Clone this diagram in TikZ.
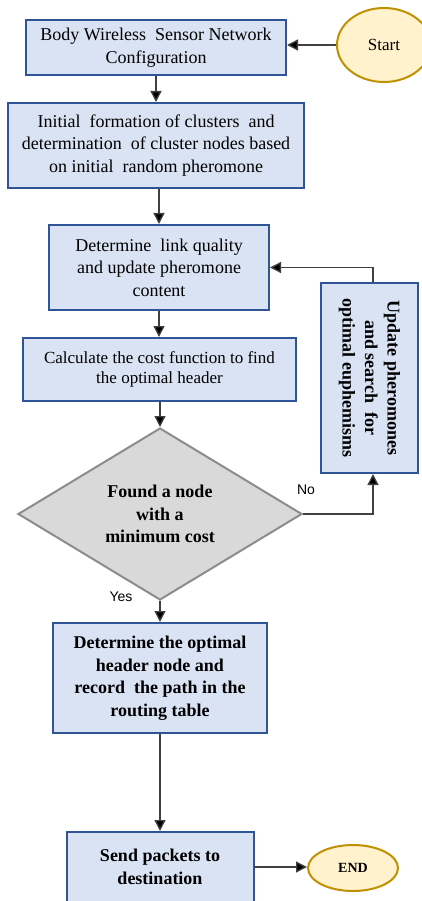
\documentclass[tikz,border=0pt]{standalone}
\usepackage{fontspec}
\setmainfont{Liberation Serif}
\newfontfamily\labelfont{Liberation Sans}
\usetikzlibrary{arrows.meta}
\usetikzlibrary{shapes.geometric}
\definecolor{boxfill}{HTML}{DAE3F3}
\definecolor{boxline}{HTML}{2F5597}
\definecolor{endfill}{HTML}{FFF2CC}
\definecolor{endline}{HTML}{BF9000}
\definecolor{testfill}{HTML}{D9D9D9}
\definecolor{testline}{HTML}{8C8C8C}
\definecolor{arrowline}{HTML}{404040}

\begin{document}
\begin{tikzpicture}[x=1pt,y=-1pt,>={Triangle[length=11pt,width=11pt,fill=black]},
    step node/.style={rectangle,draw=boxline,fill=boxfill,line width=2pt,inner sep=0pt,align=center,font=\fontsize{18}{22.5}\selectfont},
    bold node/.style={step node,font=\fontsize{18}{22.5}\selectfont\bfseries},
    end node/.style={ellipse,draw=endline,fill=endfill,line width=2pt,inner sep=0pt},
    test node/.style={diamond,aspect=1.65,draw=testline,fill=testfill,line width=2pt,inner sep=0pt,align=center,font=\fontsize{18}{22.5}\selectfont\bfseries},
    label node/.style={font=\labelfont\fontsize{14}{16}\selectfont,inner sep=0pt},
    flow/.style={->,draw=arrowline,line width=1.3pt}]
   \useasboundingbox (0,0) rectangle (422,901);
     \node[step node,minimum width=260pt,minimum height=55pt] (config) at (156,47.5) {Body Wireless\ \ Sensor Network\\Configuration};
     \node[end node,minimum width=94pt,minimum height=74pt,font=\fontsize{17}{20}\selectfont] (start) at (384,45) {Start};
     \node[step node,minimum width=296pt,minimum height=85pt] (cluster) at (156,145.5) {Initial\ \ formation of clusters\ \ and\\determination\ \ of cluster nodes based\\on initial\ \ random pheromone};
     \node[step node,minimum width=220pt,minimum height=85pt] (link) at (159,267.5) {Determine\ \ link quality\\and update pheromone\\content};
     \node[step node,minimum width=273pt,minimum height=63pt,font=\fontsize{17}{20}\selectfont] (cost) at (159.5,369.5) {Calculate the cost function to find\\the optimal header};
     %\node rotated box on the right
     \node[bold node,rotate=-90,minimum width=190pt,minimum height=97pt] (update) at (369.5,378) {Update pheromones\\and search\ \ for\\optimal euphemisms};
     \node[test node,minimum width=284pt,minimum height=172pt] (found) at (160,514) {Found a node\\with a\\minimum cost};
     \node[label node] (no) at (306,490) {No};
     \node[label node] (yes) at (121,597) {Yes};
     \node[bold node,minimum width=214pt,minimum height=110pt] (optimal) at (160,678) {Determine the optimal\\header node and\\record\ \ the path in the\\routing table};
     \node[bold node,minimum width=187pt,minimum height=70pt] (send) at (160,867) {Send packets to\\destination};
     \node[end node,minimum width=90pt,minimum height=46pt,font=\fontsize{14}{16}\selectfont\bfseries] (finish) at (353,868) {END};
      \path (start.west) edge[flow] (start.west -| config.east);
      \path (config.south) edge[flow] (cluster.north);
      \path (cluster.south -| link.north) edge[flow] (link.north);
      \path (link.south) edge[flow] (link.south |- cost.north);
      \path (found.north |- cost.south) edge[flow] (found.north);
      \path (found.south) edge[flow] (optimal.north);
      \path (optimal.south) edge[flow] (send.north);
      \path (send.east) edge[flow] (send.east -| finish.west);
      \draw[flow] (found.east) -| ([xshift=3.5pt]update.east);
      \draw[flow] ([xshift=3.5pt]update.west) |- (link.east);
  \end{tikzpicture}
\end{document}
